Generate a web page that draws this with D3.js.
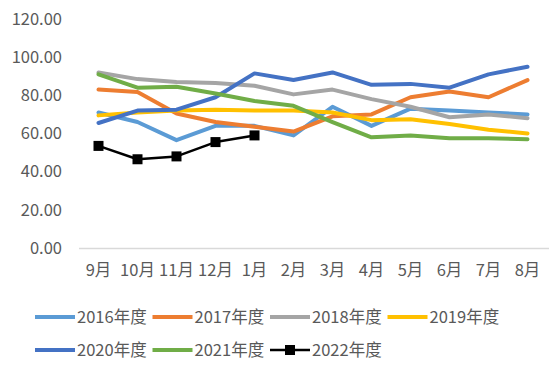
<!DOCTYPE html>
<html>
<head>
<meta charset="utf-8">
<script src="https://cdn.jsdelivr.net/npm/d3@7"></script>
<style>
  body { margin: 0; background: #fff; }
  text { font-family: "Noto Sans CJK SC", "Noto Sans", sans-serif; fill: #595959; }
</style>
</head>
<body>
<div id="chart"></div>
<script>
// --- data ---
const months = ["9月", "10月", "11月", "12月", "1月", "2月", "3月", "4月", "5月", "6月", "7月", "8月"];
const yTicks = [0, 20, 40, 60, 80, 100, 120];

const s2016 = [71, 66, 56.5, 64, 64, 59, 74, 64, 73, 72, 71, 70];
const s2017 = [83, 81.7, 70.5, 66, 63.5, 61, 69, 70, 79, 82, 79, 88];
const s2018 = [92, 88.5, 87, 86.5, 85, 80.5, 83, 78, 74, 68.5, 70, 68];
const s2019 = [69.5, 71, 72, 72.5, 72, 72, 71, 67, 67.5, 65, 62, 60];
const s2020 = [65.5, 72, 72.5, 79, 91.5, 88, 92, 85.5, 86, 84, 91, 95];
const s2021 = [91, 84, 84.5, 81, 77, 74.5, 66, 58, 59, 57.5, 57.5, 57];
const s2022 = [53.5, 46.5, 48, 55.5, 59];

const seriesNames = ["2016年度", "2017年度", "2018年度", "2019年度", "2020年度", "2021年度", "2022年度"];
const seriesColors = ["#5B9BD5", "#ED7D31", "#A5A5A5", "#FFC000", "#4472C4", "#70AD47", "#000000"];
const seriesValues = [s2016, s2017, s2018, s2019, s2020, s2021, s2022];

const W = 550, H = 369;
const plot = { left: 79, right: 547, top: 19, bottom: 248 };

const svg = d3.select("#chart").append("svg")
    .attr("width", W)
    .attr("height", H);

// --- scales ---
const x = d3.scaleBand().domain(months).range([plot.left, plot.right]);
const y = d3.scaleLinear().domain([0, 120]).range([plot.bottom, plot.top]);

// y labels (no gridlines in the original)
svg.append("g").selectAll("text")
    .data(yTicks)
    .join("text")
    .attr("x", 62)
    .attr("y", d => y(d))
    .attr("dy", "0.35em")
    .attr("text-anchor", "end")
    .style("font-size", "16.5px")
    .text(d => d.toFixed(2));

// category axis line
svg.append("line")
    .attr("x1", plot.left).attr("x2", 549)
    .attr("y1", y(0) + 0.5).attr("y2", y(0) + 0.5)
    .attr("stroke", "#D9D9D9")
    .attr("stroke-width", 1.5);

svg.append("g").selectAll("text")
    .data(months)
    .join("text")
    .attr("x", d => x(d) + x.bandwidth() / 2)
    .attr("y", 276)
    .attr("text-anchor", "middle")
    .style("font-size", "16.5px")
    .text(d => d);

// --- lines ---
const line = d3.line()
    .x((d, i) => x(months[i]) + x.bandwidth() / 2)
    .y(d => y(d));

seriesValues.forEach((vals, k) => {
    const isLast = k === 6;
    svg.append("path")
        .datum(vals)
        .attr("d", line)
        .attr("fill", "none")
        .attr("stroke", seriesColors[k])
        .attr("stroke-width", isLast ? 2.5 : 4)
        .attr("stroke-linejoin", "round")
        .attr("stroke-linecap", "round");
    if (isLast) {
        svg.append("g").selectAll("rect")
            .data(vals)
            .join("rect")
            .attr("x", (d, i) => x(months[i]) + x.bandwidth() / 2 - 5)
            .attr("y", d => y(d) - 5)
            .attr("width", 10)
            .attr("height", 10)
            .attr("fill", "#000");
    }
});

// --- legend ---
const legend = svg.append("g");
seriesNames.forEach((name, k) => {
    const col = k % 4, row = Math.floor(k / 4);
    const lx = 35 + col * 117.5;
    const ly = row === 0 ? 317 : 350;
    const g = legend.append("g").attr("transform", `translate(${lx},${ly})`);
    g.append("line")
        .attr("x1", 0).attr("x2", 40)
        .attr("stroke", seriesColors[k])
        .attr("stroke-width", k === 6 ? 2.5 : 4);
    if (k === 6) {
        g.append("rect").attr("x", 15).attr("y", -5).attr("width", 10).attr("height", 10).attr("fill", "#000");
    }
    g.append("text")
        .attr("x", 42)
        .attr("dy", "0.35em")
        .style("font-size", "16.5px")
        .text(name);
});
</script>
</body>
</html>
